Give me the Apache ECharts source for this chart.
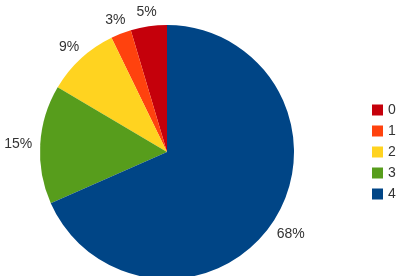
<!DOCTYPE html>
<html>
<head>
<meta charset="utf-8">
<script src="https://cdn.jsdelivr.net/npm/echarts@6/dist/echarts.min.js"></script>
<style>
  html, body { margin: 0; padding: 0; background: #fff; }
  #chart { width: 410px; height: 276px; }
</style>
</head>
<body>
<div id="chart"></div>
<script>
var categories = ['0', '1', '2', '3', '4'];
var values = [4.6, 2.6, 9.3, 15.1, 68.4];
var colors = ['#c5000b', '#ff420e', '#ffd320', '#579d1c', '#004586'];

var PIE_CX = 167, PIE_CY = 152, PIE_R = 127;
var LABEL_GAP = 135; // distance from centre to the nearest edge of a label box

// push each label out along its own ray until its box edge sits at LABEL_GAP
function placeLabel(params) {
    var r = params.labelRect;
    var lx = r.x + r.width / 2, ly = r.y + r.height / 2;
    var dx = lx - PIE_CX, dy = ly - PIE_CY;
    var len = Math.sqrt(dx * dx + dy * dy) || 1;
    var ux = dx / len, uy = dy / len;
    var t = Math.min(
        Math.abs(ux) > 1e-6 ? (r.width / 2) / Math.abs(ux) : Infinity,
        Math.abs(uy) > 1e-6 ? (r.height / 2) / Math.abs(uy) : Infinity
    );
    return {
        x: PIE_CX + ux * (LABEL_GAP + t),
        y: PIE_CY + uy * (LABEL_GAP + t) + 1,
        align: 'center',
        verticalAlign: 'middle'
    };
}

var myChart = echarts.init(document.getElementById('chart'));
myChart.setOption({
    animation: false,
    color: colors,
    legend: {
        orient: 'vertical',
        left: 372,
        top: 103,
        padding: 0,
        itemWidth: 11,
        itemHeight: 11,
        itemGap: 7,
        icon: 'rect',
        data: categories,
        textStyle: {
            fontFamily: 'Liberation Sans',
            fontSize: 14,
            color: '#333'
        }
    },
    series: [{
        type: 'pie',
        center: [PIE_CX, PIE_CY],
        radius: [0, PIE_R],
        startAngle: 90,
        clockwise: false,
        silent: true,
        label: {
            show: true,
            position: 'inside',
            formatter: function (p) {
                return Math.round(p.percent) + '%';
            },
            fontFamily: 'Liberation Sans',
            fontSize: 14,
            color: '#333'
        },
        labelLine: { show: false },
        labelLayout: placeLabel,
        data: categories.map(function (name, i) {
            return { name: name, value: values[i] };
        })
    }]
});
</script>
</body>
</html>
